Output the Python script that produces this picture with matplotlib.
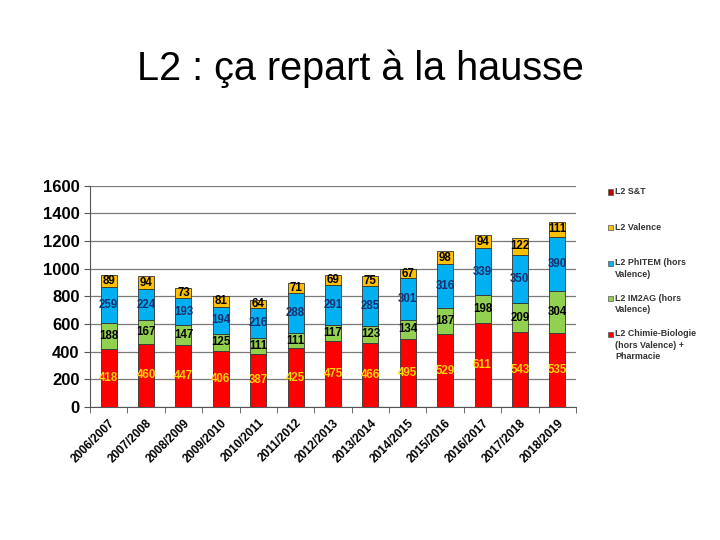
import numpy as np
import matplotlib.pyplot as plt
from matplotlib.patches import Rectangle

years = ['2006/2007', '2007/2008', '2008/2009', '2009/2010', '2010/2011', '2011/2012',
         '2012/2013', '2013/2014', '2014/2015', '2015/2016', '2016/2017', '2017/2018', '2018/2019']
chimie_bio = [418, 460, 447, 406, 387, 425, 475, 466, 495, 529, 611, 543, 535]
im2ag = [188, 167, 147, 125, 111, 111, 117, 123, 134, 187, 198, 209, 304]
phitem = [259, 224, 193, 194, 216, 288, 291, 285, 301, 316, 339, 350, 390]
valence = [89, 94, 73, 81, 64, 71, 69, 75, 67, 98, 94, 122, 111]
st = [0] * 13

plt.rcParams['font.family'] = ['Liberation Sans', 'DejaVu Sans']

fig = plt.figure(figsize=(7.2, 5.4), dpi=100)
fig.text(0.5, 0.873, 'L2 : ça repart à la hausse', ha='center', va='center', fontsize=28.5)

ax = fig.add_axes([0.125, 0.246, 0.675, 0.41])
x = np.arange(len(years))
w = 0.43

series = [
    (chimie_bio, '#FF0000', '#FFD700'),
    (im2ag, '#92D050', '#000000'),
    (phitem, '#00B0F0', '#1A2F70'),
    (valence, '#FFC000', '#000000'),
]
bottom = np.zeros(len(years))
for vals, col, tcol in series:
    vals = np.array(vals)
    ax.bar(x, vals, w, bottom=bottom, color=col, edgecolor='#333333', linewidth=0.6, zorder=3)
    for xi, b, v in zip(x, bottom, vals):
        ax.text(xi, b + v / 2, str(v), ha='center', va='center', fontsize=8.3,
                fontweight='bold', color=tcol, zorder=4)
    bottom += vals
ax.bar(x, st, w, bottom=bottom, color='#C00000', zorder=3)

ax.set_xlim(-0.5, len(years) - 0.5)
ax.set_ylim(0, 1600)
ax.set_yticks(range(0, 1601, 200))
ax.tick_params(axis='y', labelsize=12, length=4, width=0.8, color='#555555')
for lbl in ax.get_yticklabels():
    lbl.set_fontweight('bold')
ax.set_xticks(x)
ax.set_xticklabels(years, rotation=45, ha='right', rotation_mode='anchor',
                   fontsize=8.5, fontweight='bold')
ax.tick_params(axis='x', which='major', length=0, pad=7)
ax.set_xticks(np.arange(-0.5, len(years), 1), minor=True)
ax.tick_params(axis='x', which='minor', length=4, color='#555555')
ax.grid(axis='y', color='#7a7a7a', linewidth=0.9, zorder=0)
ax.spines['top'].set_visible(False)
ax.spines['right'].set_visible(False)
ax.spines['left'].set_color('#555555')
ax.spines['bottom'].set_color('#555555')

# legend drawn by hand: the marker sits on the first line of each entry
leg_colors = ['#C00000', '#FFC000', '#00B0F0', '#92D050', '#FF0000']
leg_labels = ['L2 S&T', 'L2 Valence', 'L2 PhITEM (hors\nValence)', 'L2 IM2AG (hors\nValence)',
              'L2 Chimie-Biologie\n(hors Valence) +\nPharmacie']
W, H = 720, 540
for i, (c, lab) in enumerate(zip(leg_colors, leg_labels)):
    yc = 192 + 35.5 * i
    fig.patches.append(Rectangle((608 / W, 1 - (yc + 2.5) / H), 5 / W, 5 / H,
                                 transform=fig.transFigure, facecolor=c,
                                 edgecolor='#555555', linewidth=0.5))
    fig.text(615 / W, 1 - (yc - 4.5) / H, lab, ha='left', va='top', fontsize=6.4,
             fontweight='bold', color='#333333', linespacing=1.3)

fig.savefig('out.png', dpi=100)
